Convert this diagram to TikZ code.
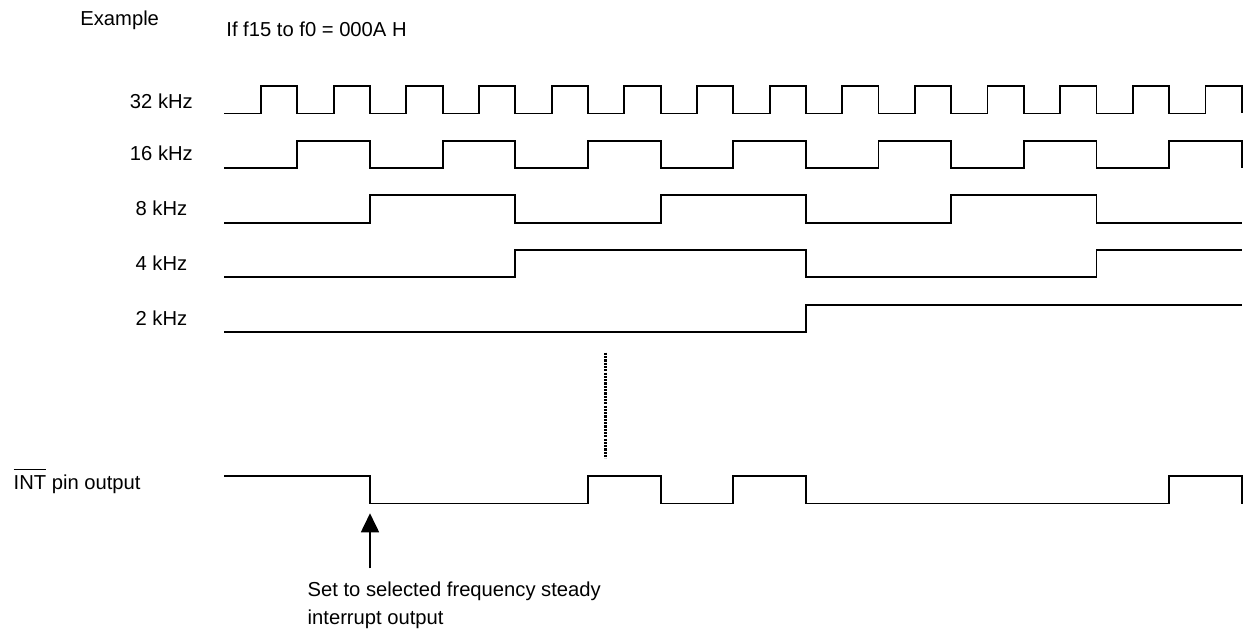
\documentclass[tikz,border=0pt]{standalone}
\usepackage{fontspec}
\setmainfont{Liberation Sans}
\usetikzlibrary{arrows.meta}
\newcommand{\ovl}[1]{{\setbox0\hbox{#1}\rlap{\rule[\dimexpr\ht0+2.7pt\relax]{\wd0}{0.6pt}}#1}}
\begin{document}
\begin{tikzpicture}[x=0.5pt,y=-0.5pt,
  wave/.style={line width=0.95pt, line join=miter, line cap=butt},
  lbl/.style={inner sep=0pt, font=\fontsize{10.1pt}{14.35pt}\selectfont},
  dots/.style={line width=1.3pt, dash pattern=on 1.1pt off 0.55pt},
  pointer/.style={line width=0.9pt, -{Triangle[width=9pt,length=9.5pt]}}
]
\useasboundingbox (0,0) rectangle (1244,631);

% titles
\node[lbl, anchor=base west] (ex) at (80,25.5) {Example};
\node[lbl, anchor=base west] (cond) at (226,36.6) {If f15 to f0 = 000A H};

% row labels
\node[lbl, anchor=base] (l32) at (161.4,108.5) {32 kHz};
\node[lbl, anchor=base] (l16) at (161.4,160.8) {16 kHz};
\node[lbl, anchor=base] (l8)  at (161.4,215.5) {8 kHz};
\node[lbl, anchor=base] (l4)  at (161.4,270.5) {4 kHz};
\node[lbl, anchor=base] (l2)  at (161.4,325.0) {2 kHz};
\node[lbl, anchor=base west] (lint) at (13.3,489) {\ovl{INT} pin output};

% 32 kHz
\draw[wave] (224,113.5) \foreach \k in {0,...,13} { -| ({261+2*\k*36.325},86) -| ({261+(2*\k+1)*36.325},113.5) };
% 16 kHz
\draw[wave] (224,168.3) \foreach \k in {0,...,6} { -| ({261+(4*\k+1)*36.325},140.8) -| ({261+(4*\k+3)*36.325},168.3) };
% 8 kHz
\draw[wave] (224,222.8) -| ({261+3*36.325},195.3) -| ({261+7*36.325},222.8)
  -| ({261+11*36.325},195.3) -| ({261+15*36.325},222.8)
  -| ({261+19*36.325},195.3) -| ({261+23*36.325},222.8) -- ({261+27*36.325},222.8);
% 4 kHz
\draw[wave] (224,277.2) -| ({261+7*36.325},249.8) -| ({261+15*36.325},277.2)
  -| ({261+23*36.325},249.8) -- ({261+27*36.325},249.8);
% 2 kHz
\draw[wave] (224,331.6) -| ({261+15*36.325},304.6) -- ({261+27*36.325},304.6);
% INT
\draw[wave] (224,476) -| ({261+3*36.325},503.5) -| ({261+9*36.325},476)
  -| ({261+11*36.325},503.5) -| ({261+13*36.325},476)
  -| ({261+15*36.325},503.5) -| ({261+25*36.325},476)
  -| ({261+27*36.325},503.5);

% dotted omission mark
\coordinate (dtop) at (605.3,352.7);
\coordinate (dbot) at (605.3,458.3);
\draw[dots] (dtop) -- (dbot);

% arrow and note
\coordinate (tail) at (370,568.3);
\coordinate (tip) at (370,513.3);
\draw[pointer] (tail) -- (tip);
\node[lbl, anchor=base west] (note1) at (307.3,596.2) {Set to selected frequency steady};
\node[lbl, anchor=base west] (note2) at (307.3,624.9) {interrupt output};
\end{tikzpicture}
\end{document}
